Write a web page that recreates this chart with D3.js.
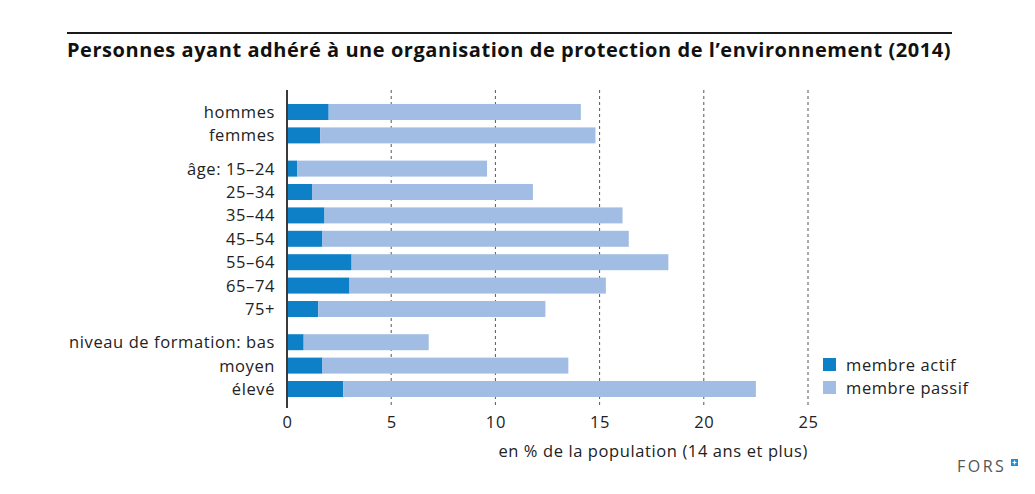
<!DOCTYPE html>
<html>
<head>
<meta charset="utf-8">
<script src="https://cdn.jsdelivr.net/npm/d3@7"></script>
<style>
  body { margin: 0; background: #fff; }
  text { font-family: 'Open Sans', 'Noto Sans', sans-serif; fill: #222; }
</style>
</head>
<body>
<div id="chart"></div>
<script>
// categories, grouped (a gap is left between groups)
const categories = ['hommes', 'femmes', 'âge: 15–24', '25–34', '35–44', '45–54', '55–64', '65–74', '75+', 'niveau de formation: bas', 'moyen', 'élevé']
const groups = [0, 0, 1, 1, 1, 1, 1, 1, 1, 2, 2, 2]
const actif = [2.0, 1.6, 0.5, 1.2, 1.8, 1.7, 3.1, 3.0, 1.5, 0.8, 1.7, 2.7]
const passif = [12.1, 13.2, 9.1, 10.6, 14.3, 14.7, 15.2, 12.3, 10.9, 6.0, 11.8, 19.8]
const xTicks = [0, 5, 10, 15, 20, 25]
const seriesNames = ['membre actif', 'membre passif']

const width = 1035
const height = 494

const colorScale = d3.scaleOrdinal()
  .domain(seriesNames)
  .range(['#0e80c8', '#a2bde4'])

const svg = d3.select('#chart')
  .append('svg')
  .attr('width', width)
  .attr('height', height)

// title and rule above it
svg.append('line')
  .attr('x1', 67).attr('x2', 952)
  .attr('y1', 33).attr('y2', 33)
  .attr('stroke', '#1a1a1a')
  .attr('stroke-width', 2)

svg.append('text')
  .attr('x', 67)
  .attr('y', 57)
  .style('font-weight', 'bold')
  .style('font-size', '20px')
  .style('letter-spacing', '0.55px')
  .style('fill', '#111')
  .text('Personnes ayant adhéré à une organisation de protection de l’environnement (2014)')

const x = d3.scaleLinear()
  .domain([0, 25])
  .range([287, 808])

// row slot = index + a fraction per group gap
const gapFrac = 0.42
const y = d3.scaleLinear()
  .domain([0, 11 + 2 * gapFrac])
  .range([112, 389])

const rows = categories.map((c, i) => ({
  name: c,
  actif: actif[i],
  passif: passif[i],
  slot: i + groups[i] * gapFrac
}))

const barH = 16
const plotTop = 90
const plotBottom = 408

// dashed gridlines
svg.append('g')
  .selectAll('line')
  .data(xTicks.filter(d => d > 0))
  .enter()
  .append('line')
  .attr('x1', d => x(d)).attr('x2', d => x(d))
  .attr('y1', plotTop).attr('y2', plotBottom)
  .attr('stroke', '#555')
  .attr('stroke-width', 1)
  .attr('stroke-dasharray', '3,3')

// bars
const bars = svg.append('g')

bars.selectAll('.actif')
  .data(rows)
  .enter()
  .append('rect')
  .attr('class', 'actif')
  .attr('x', x(0))
  .attr('y', d => y(d.slot) - barH / 2)
  .attr('width', d => x(d.actif) - x(0))
  .attr('height', barH)
  .attr('fill', colorScale('membre actif'))

bars.selectAll('.passif')
  .data(rows)
  .enter()
  .append('rect')
  .attr('class', 'passif')
  .attr('x', d => x(d.actif))
  .attr('y', d => y(d.slot) - barH / 2)
  .attr('width', d => x(d.actif + d.passif) - x(d.actif))
  .attr('height', barH)
  .attr('fill', colorScale('membre passif'))

// zero axis
svg.append('line')
  .attr('x1', x(0)).attr('x2', x(0))
  .attr('y1', plotTop).attr('y2', plotBottom)
  .attr('stroke', '#3a3a3a')
  .attr('stroke-width', 2)

// category labels
svg.append('g')
  .selectAll('text')
  .data(rows)
  .enter()
  .append('text')
  .attr('x', 275)
  .attr('y', d => y(d.slot))
  .attr('dy', '0.36em')
  .attr('text-anchor', 'end')
  .style('font-size', '16.5px')
  .style('letter-spacing', '0.6px')
  .text(d => d.name)

// x axis tick labels
const xAxis = d3.axisBottom(x)
  .tickValues(xTicks)
  .tickSize(0)
  .tickPadding(0)

const axisG = svg.append('g')
  .attr('transform', 'translate(0,' + 416 + ')')
  .call(xAxis)

axisG.select('.domain').remove()
axisG.selectAll('text')
  .attr('dy', '0.71em')
  .style('font-size', '16.5px')
  .style('letter-spacing', '0.6px')
  .style('font-family', "'Open Sans', 'Noto Sans', sans-serif")
  .style('fill', '#222')

svg.append('text')
  .attr('x', x(25))
  .attr('y', 457)
  .attr('text-anchor', 'end')
  .style('font-size', '16.5px')
  .style('letter-spacing', '0.6px')
  .text('en % de la population (14 ans et plus)')

// legend
const legend = svg.append('g')
  .selectAll('g')
  .data(seriesNames)
  .enter()
  .append('g')
  .attr('transform', (d, i) => 'translate(823,' + (358 + i * 23) + ')')

legend.append('rect')
  .attr('width', 13)
  .attr('height', 13)
  .attr('fill', d => colorScale(d))

legend.append('text')
  .attr('x', 23)
  .attr('y', 7)
  .attr('dy', '0.36em')
  .style('font-size', '16.5px')
  .style('letter-spacing', '0.6px')
  .text(d => d)

// FORS logo
svg.append('text')
  .attr('x', 957)
  .attr('y', 472)
  .style('font-size', '16px')
  .style('letter-spacing', '2.5px')
  .style('fill', '#555')
  .text('FORS')

svg.append('rect')
  .attr('x', 1011).attr('y', 459)
  .attr('width', 7).attr('height', 7)
  .attr('fill', '#1a8fd6')

svg.append('path')
  .attr('d', 'M1014.5,460.5V464.5M1012.5,462.5H1016.5')
  .attr('stroke', '#fff')
  .attr('stroke-width', 1.2)
</script>
</body>
</html>
